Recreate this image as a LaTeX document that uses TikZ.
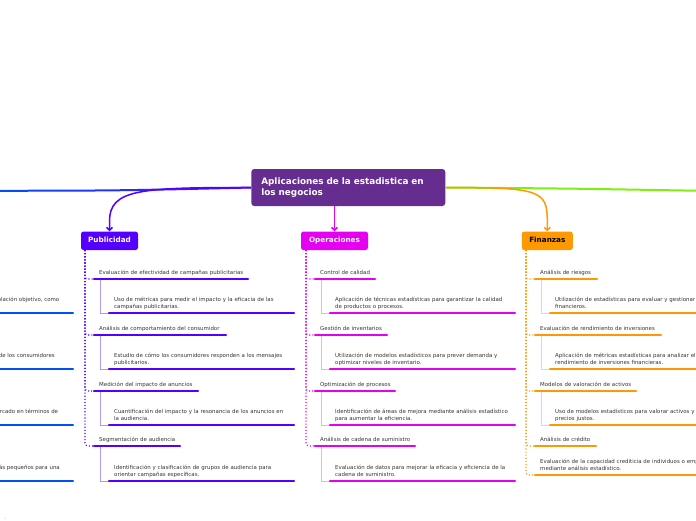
\documentclass[tikz,border=0pt]{standalone}
\usepackage{fontspec}
\setmainfont{DejaVu Sans}
\usetikzlibrary{arrows.meta,calc}
\definecolor{cmain}{HTML}{662D91}
\definecolor{cpub}{HTML}{5500FF}
\definecolor{cpubl}{HTML}{B09AFF}
\definecolor{cops}{HTML}{E600F2}
\definecolor{copsl}{HTML}{F5A8F5}
\definecolor{cfin}{HTML}{FF9900}
\definecolor{cfinl}{HTML}{FFD090}
\definecolor{cblue}{HTML}{0050F8}
\definecolor{cgreen}{HTML}{80EE10}
\definecolor{tgray}{HTML}{333333}
\newcommand\mmhead[7]{%
  \coordinate (#1a) at ({#4+9},#5);
  \coordinate (#1b) at (#6,#5);
  \draw[dotconn,draw=#2] (#3) |- (#1a);
  \draw[uline,draw=#2] (#1a) -- (#1b);
  \node[mtext] (#1) at ({#4+14},{#5-5}) {#7};
}
\newcommand\mmsub[6]{%
  \coordinate (#1sa) at ({#4+24},#5);
  \coordinate (#1sb) at ({#4+209},#5);
  \draw[subconn,draw=#3] ($(#1a)+(6,1.3)$) |- (#1sa);
  \draw[uline,draw=#2] (#1sa) -- (#1sb);
  \node[mtext] (#1s) at ({#4+29},{#5-12}) {#6};
}
\begin{document}
\begin{tikzpicture}[x=1pt,y=-1pt,
  ttext/.style={font=\fontsize{5.45}{7}\selectfont, text=tgray, inner sep=0pt, anchor=base west},
  mtext/.style={ttext, text width=260pt, align=left},
  uline/.style={line width=2.3pt, line cap=round},
  dotconn/.style={dotted, line width=1.1pt, rounded corners=3pt},
  subconn/.style={line width=0.8pt},
  bbox/.style={rounded corners=2.5pt, minimum height=18.5pt, inner sep=0pt, text=white,
    text height=5.3pt, text depth=1.2pt,
    font=\bfseries\fontsize{7.25}{9}\selectfont},
  conn/.style={line width=1.5pt, -{Straight Barb[length=3pt,width=6pt]}},
]
\useasboundingbox (0,0) rectangle (696,520);
\clip (0,0) rectangle (696,520);

% central
\node[fill=cmain, rounded corners=3pt, text=white, font=\bfseries\fontsize{8.85}{11}\selectfont,
  text width=174pt, align=left, inner xsep=10pt, inner ysep=0pt, minimum height=37pt]
  (root) at (348.3,187.5) {Aplicaciones de la estadistica en\\los negocios};

% off-page branches
\coordinate (offL) at (-5,190.8);
\coordinate (offR) at (701,190.8);
\shade[left color=cblue, right color=cpub, middle color=cblue!60!cpub]
  ($(offL)+(0,-1)$) .. controls (120,189.6) .. ($(root.west)+(0,-1)$) --
  ($(root.west)+(0,1)$) .. controls (120,191.6) .. ($(offL)+(0,1)$) -- cycle;
\draw[cgreen, line width=2pt] (root.east) .. controls (570,188.5) .. (offR);

% main branch boxes
\node[bbox, fill=cpub, minimum width=57pt] (pub) at (109.5,240.8) {Publicidad};
\node[bbox, fill=cops, minimum width=67pt] (ops) at (334.5,240.8) {Operaciones};
\node[bbox, fill=cfin, minimum width=51pt, text=black] (fin) at (547.3,240.8) {Finanzas};

\draw[conn, cpub] (root.west) .. controls (140,187.5) and (109.5,189) .. ($(pub.north)+(0,-10)$) -- (pub.north);
\draw[conn, cops] (root.south -| ops.north) -- (ops.north);
\draw[conn, cfin] (root.east) .. controls (540,187.5) and (547.3,190) .. ($(fin.north)+(0,-10)$) -- (fin.north);

% spine tops
\coordinate (Ptop) at (85,250);
\coordinate (Otop) at (306,250);
\coordinate (Ftop) at (526,250);

% Publicidad
\mmhead{P1}{cpub}{Ptop}{85}{279}{248}{Evaluación de efectividad de campañas publicitarias}
\mmsub{P1}{cpub}{cpubl}{85}{313}{Uso de métricas para medir el impacto y la eficacia de las\\campañas publicitarias.}
\mmhead{P2}{cpub}{Ptop}{85}{335}{226}{Análisis de comportamiento del consumidor}
\mmsub{P2}{cpub}{cpubl}{85}{369}{Estudio de cómo los consumidores responden a los mensajes\\publicitarios.}
\mmhead{P3}{cpub}{Ptop}{85}{391}{198}{Medición del impacto de anuncios}
\mmsub{P3}{cpub}{cpubl}{85}{425}{Cuantificación del impacto y la resonancia de los anuncios en\\la audiencia.}
\mmhead{P4}{cpub}{Ptop}{85}{446}{180}{Segmentación de audiencia}
\mmsub{P4}{cpub}{cpubl}{85}{481}{Identificación y clasificación de grupos de audiencia para\\orientar campañas específicas.}

% Operaciones
\mmhead{O1}{cops}{Otop}{306}{279}{375}{Control de calidad}
\mmsub{O1}{cops}{copsl}{306}{313}{Aplicación de técnicas estadísticas para garantizar la calidad\\de productos o procesos.}
\mmhead{O2}{cops}{Otop}{306}{335}{387}{Gestión de inventarios}
\mmsub{O2}{cops}{copsl}{306}{369}{Utilización de modelos estadísticos para prever demanda y\\optimizar niveles de inventario.}
\mmhead{O3}{cops}{Otop}{306}{391}{395}{Optimización de procesos}
\mmsub{O3}{cops}{copsl}{306}{425}{Identificación de áreas de mejora mediante análisis estadístico\\para aumentar la eficiencia.}
\mmhead{O4}{cops}{Otop}{306}{446}{415}{Análisis de cadena de suministro}
\mmsub{O4}{cops}{copsl}{306}{481}{Evaluación de datos para mejorar la eficacia y eficiencia de la\\cadena de suministro.}

% Finanzas
\mmhead{F1}{cfin}{Ftop}{526}{279}{597}{Análisis de riesgos}
\mmsub{F1}{cfin}{cfinl}{526}{313}{Utilización de estadísticas para evaluar y gestionar riesgos\\financieros.}
\mmhead{F2}{cfin}{Ftop}{526}{335}{661}{Evaluación de rendimiento de inversiones}
\mmsub{F2}{cfin}{cfinl}{526}{369}{Aplicación de métricas estadísticas para analizar el\\rendimiento de inversiones financieras.}
\mmhead{F3}{cfin}{Ftop}{526}{391}{636}{Modelos de valoración de activos}
\mmsub{F3}{cfin}{cfinl}{526}{425}{Uso de modelos estadísticos para valorar activos y determinar\\precios justos.}
\mmhead{F4}{cfin}{Ftop}{526}{446}{596}{Análisis de crédito}
\coordinate (F5a) at (535,475);
\coordinate (F5b) at (740,475);
\draw[dotconn,draw=cfin] (Ftop) |- (F5a);
\draw[uline,draw=cfin] (F5a) -- (F5b);
\node[mtext] (F5) at (540,463) {Evaluación de la capacidad crediticia de individuos o empresas\\mediante análisis estadístico.};

% cut-off left branch
\foreach \i/\y/\ex/\t in {1/313/59.5/{población objetivo, como},
                         2/369/55/{de los consumidores},
                         3/425/58.3/{mercado en términos de},
                         4/481/60/{más pequeños para una}}{
  \coordinate (L\i a) at (-10,\y);
  \coordinate (L\i b) at (73,\y);
  \draw[uline, cblue] (L\i a) -- (L\i b);
  \node[ttext, anchor=base east] (L\i) at (\ex,\y-12) {\t};
}
\fill[gray!70] (5,518) circle (0.5);
\end{tikzpicture}
\end{document}
